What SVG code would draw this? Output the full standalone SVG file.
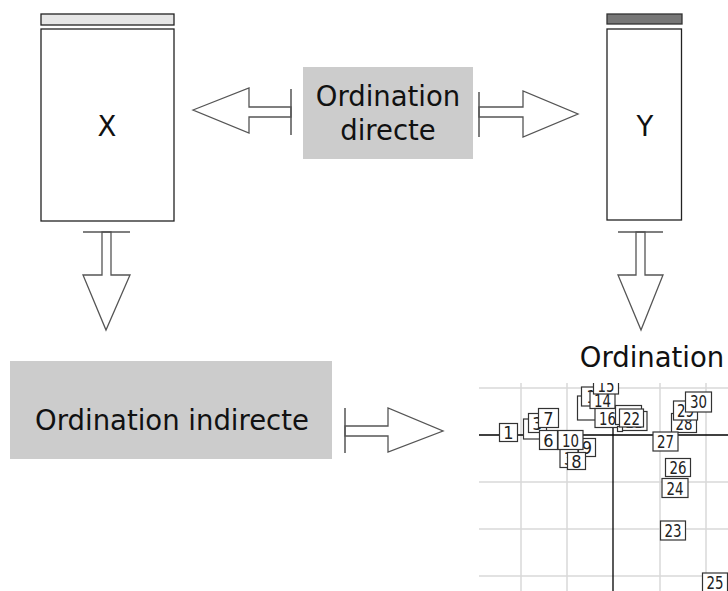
<svg xmlns="http://www.w3.org/2000/svg" width="728" height="591" viewBox="0 0 728 591">
<style>
.big{font-family:"DejaVu Sans",Verdana,sans-serif;font-size:27.5px;fill:#111;text-anchor:middle}
.mat{fill:#fff;stroke:#222;stroke-width:1.3}
.arr{fill:#fff;stroke:#555;stroke-width:1.3;stroke-linejoin:miter}
.bar{stroke:#555;stroke-width:1.5}
.grid{stroke:#d9d9d9;stroke-width:1.5}
.axis{stroke:#000;stroke-width:1.3}
.lb rect{fill:#fff;stroke:#333;stroke-width:1.2}
.lb text{font-family:"DejaVu Sans Condensed","DejaVu Sans",sans-serif;font-size:18px;fill:#222;text-anchor:middle}
</style>
<defs>
<clipPath id="pc"><rect x="479" y="383" width="249" height="208"/></clipPath>
</defs>
<g id="X">
<rect x="41" y="14" width="133" height="11" fill="#e6e6e6" stroke="#222" stroke-width="1.3"/>
<rect class="mat" x="41" y="29" width="133" height="192"/>
<text class="big" x="107" y="136">X</text>
</g>
<g id="Y">
<rect x="607" y="14" width="75" height="10" fill="#777" stroke="#333" stroke-width="1.3"/>
<rect class="mat" x="607" y="29" width="74.5" height="191"/>
<text class="big" x="645" y="136">Y</text>
</g>
<g id="directe">
<rect x="303" y="67" width="170" height="92" fill="#ccc"/>
<text class="big" x="388" y="106">Ordination</text>
<text class="big" x="388" y="140">directe</text>
</g>
<g id="indirecte">
<rect x="10" y="361" width="322" height="98" fill="#ccc"/>
<text class="big" x="172" y="430">Ordination indirecte</text>
</g>
<g id="connectors">
<polygon class="arr" points="193,110 249,88 249,107 291,107 291,117 249,117 249,133"/>
<line class="bar" x1="291" y1="89" x2="291" y2="135"/>
<polygon class="arr" points="479,107 523,107 523,91 578,114 523,137 523,117 479,117"/>
<line class="bar" x1="479" y1="92" x2="479" y2="137"/>
<polygon class="arr" points="102,232 111,232 111,275 130,275 106,330 83,275 102,275"/>
<line class="bar" x1="83" y1="232" x2="130" y2="232"/>
<polygon class="arr" points="636,232 645,232 645,275 663,275 641,330 618,275 636,275"/>
<line class="bar" x1="618" y1="232" x2="663" y2="232"/>
<polygon class="arr" points="345,426 388,426 388,408 443,431 388,452 388,436 345,436"/>
<line class="bar" x1="345" y1="408" x2="345" y2="453"/>
</g>
<g id="ordination">
<text class="big" x="652" y="367">Ordination</text>
<g clip-path="url(#pc)">
<g class="grid">
<line x1="479" y1="388" x2="728" y2="388"/>
<line x1="479" y1="482" x2="728" y2="482"/>
<line x1="479" y1="529" x2="728" y2="529"/>
<line x1="479" y1="576" x2="728" y2="576"/>
<line x1="521" y1="383" x2="521" y2="591"/>
<line x1="567" y1="383" x2="567" y2="591"/>
<line x1="660" y1="383" x2="660" y2="591"/>
<line x1="706" y1="383" x2="706" y2="591"/>
</g>
<line class="axis" x1="479" y1="435" x2="728" y2="435"/>
<line class="axis" x1="613" y1="383" x2="613" y2="591"/>
<g class="lb">
<rect x="499.5" y="423.5" width="18" height="18"/><text x="508.5" y="439">1</text>
<rect x="523.5" y="419" width="18" height="20"/>
<rect x="528.5" y="413.5" width="18" height="19"/><text x="537.5" y="430">3</text>
<rect x="538.5" y="408.5" width="20" height="19"/><text x="548.5" y="425">7</text>
<rect x="560" y="448.5" width="18" height="19"/><text x="569" y="465">3</text>
<rect x="578.5" y="438.5" width="17" height="18"/><text x="587" y="454">9</text>
<rect x="567.5" y="452.5" width="18" height="17"/><text x="576.5" y="468">8</text>
<rect x="539.5" y="430.5" width="18" height="19"/><text x="548.5" y="447">6</text>
<rect x="558" y="430.5" width="25" height="19"/><text x="570.5" y="447" textLength="17" lengthAdjust="spacingAndGlyphs">10</text>
<rect x="577.5" y="396" width="20" height="24"/>
<rect x="581.5" y="387" width="20" height="19"/><text x="591.5" y="403">1</text>
<rect x="590" y="391.5" width="25" height="17"/><text x="602.5" y="407" textLength="17" lengthAdjust="spacingAndGlyphs">14</text>
<rect x="593.5" y="377" width="25" height="17"/><text x="606" y="392" textLength="17" lengthAdjust="spacingAndGlyphs">15</text>
<rect x="595" y="408.5" width="25" height="19"/><text x="607.5" y="425" textLength="17" lengthAdjust="spacingAndGlyphs">16</text>
<rect x="621" y="411.5" width="26" height="19"/><text x="634" y="428" textLength="17" lengthAdjust="spacingAndGlyphs">21</text>
<rect x="617.5" y="426.5" width="5" height="5"/>
<rect x="615.5" y="405.5" width="26" height="19"/>
<rect x="619.5" y="409" width="24" height="18"/><text x="631.5" y="425" textLength="17" lengthAdjust="spacingAndGlyphs">22</text>
<rect x="671.5" y="413.5" width="25" height="19"/><text x="684" y="430" textLength="17" lengthAdjust="spacingAndGlyphs">28</text>
<rect x="673.5" y="401" width="24" height="19"/><text x="685.5" y="417" textLength="17" lengthAdjust="spacingAndGlyphs">29</text>
<rect x="685.5" y="392" width="26" height="20"/><text x="698.5" y="408" textLength="17" lengthAdjust="spacingAndGlyphs">30</text>
<rect x="653" y="432" width="25" height="19"/><text x="665.5" y="448" textLength="17" lengthAdjust="spacingAndGlyphs">27</text>
<rect x="665.5" y="458.5" width="25" height="18"/><text x="678" y="474" textLength="17" lengthAdjust="spacingAndGlyphs">26</text>
<rect x="662" y="478.5" width="26" height="19"/><text x="675" y="495" textLength="17" lengthAdjust="spacingAndGlyphs">24</text>
<rect x="660.5" y="521" width="25" height="19"/><text x="673" y="537" textLength="17" lengthAdjust="spacingAndGlyphs">23</text>
<rect x="702.5" y="573" width="25" height="19"/><text x="715" y="589" textLength="17" lengthAdjust="spacingAndGlyphs">25</text>
</g>
</g>
</g>
</svg>
